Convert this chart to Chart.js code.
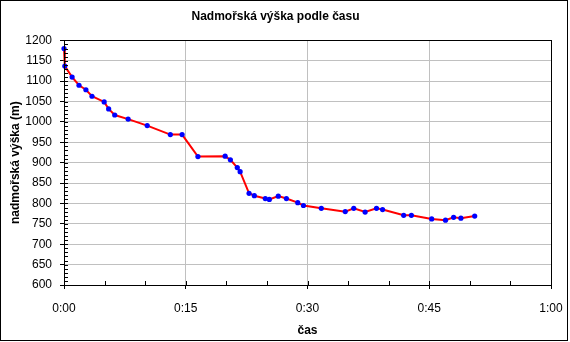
<!DOCTYPE html>
<html>
<head>
<meta charset="utf-8">
<script src="https://cdn.jsdelivr.net/npm/chart.js@4"></script>
<style>
  html, body { margin: 0; padding: 0; background: #fff; }
  #wrap { width: 570px; height: 342px; }
</style>
</head>
<body>
<div id="wrap"><canvas id="chart" width="570" height="342"></canvas></div>
<script>
// time in minutes, altitude in metres
const times = [0, 0.1, 1.0, 1.85, 2.7, 3.45, 4.95, 5.5, 6.25, 7.9, 10.25, 13.1, 14.55, 16.5, 19.85, 20.5, 21.35, 21.7, 22.8, 23.45, 24.8, 25.3, 26.4, 27.4, 28.8, 29.5, 31.7, 34.65, 35.7, 37.1, 38.5, 39.25, 41.85, 42.8, 45.3, 47.0, 48.0, 48.9, 50.6];
const altitudes = [1180, 1137, 1110, 1090, 1079, 1063, 1049, 1032, 1017, 1007, 991, 969, 969, 915, 916, 907, 888, 878, 825, 819, 812, 810, 818, 812, 802, 795, 788, 780, 788, 779, 788, 785, 771, 771, 762, 759, 766, 764, 769];
const xTicks = [0, 15, 30, 45, 60];
const yRange = [600, 1200];

const FONT = 'Arial, "Liberation Sans", sans-serif';

const fmtTime = v => Math.floor(v / 60) + ':' + String(v % 60).padStart(2, '0');

// frame, plot box and inward minor ticks
const frame = {
    id: 'frame',
    afterDraw(chart) {
        const { ctx, chartArea: a, scales: { x, y } } = chart;
        ctx.save();
        ctx.strokeStyle = '#000';
        ctx.lineWidth = 1;
        ctx.beginPath();
        for (let v = yRange[0]; v <= yRange[1]; v += 10) {
            const py = Math.round(y.getPixelForValue(v)) + 0.5;
            ctx.moveTo(a.left, py);
            ctx.lineTo(a.left + 4, py);
        }
        for (let v = 0; v <= 60; v += 5) {
            const px = Math.round(x.getPixelForValue(v)) + 0.5;
            ctx.moveTo(px, a.bottom);
            ctx.lineTo(px, a.bottom - 4);
        }
        ctx.stroke();
        ctx.strokeRect(Math.round(a.left) + 0.5, Math.round(a.top) + 0.5,
            Math.round(a.right - a.left), Math.round(a.bottom - a.top));
        ctx.strokeRect(0.5, 0.5, 567, 340);
        ctx.restore();
    }
};

new Chart(document.getElementById('chart'), {
    type: 'scatter',
    data: {
        datasets: [{
            data: times.map((t, i) => ({ x: t, y: altitudes[i] })),
            showLine: true,
            clip: false,
            borderColor: '#ff0000',
            borderWidth: 2,
            tension: 0,
            pointStyle: 'circle',
            pointRadius: 2.6,
            pointBackgroundColor: '#0000ff',
            pointBorderColor: '#0000ff',
            pointBorderWidth: 0
        }]
    },
    options: {
        responsive: false,
        animation: false,
        layout: { padding: { left: 0, right: 19, top: 0, bottom: 0 } },
        plugins: {
            legend: { display: false },
            tooltip: { enabled: false },
            title: {
                display: true,
                text: 'Nadmořská výška podle času',
                color: '#000',
                font: { family: FONT, size: 12, weight: 'bold' },
                padding: { top: 9, bottom: 17 }
            }
        },
        scales: {
            x: {
                type: 'linear',
                min: 0,
                max: 60,
                afterBuildTicks: s => { s.ticks = xTicks.map(v => ({ value: v })); },
                afterFit: s => { s.height = 57; s.paddingLeft = 0; s.paddingRight = 0; },
                ticks: {
                    color: '#000',
                    font: { family: FONT, size: 12 },
                    padding: 12,
                    maxRotation: 0,
                    callback: v => fmtTime(v)
                },
                grid: { color: '#c0c0c0', tickColor: '#000', tickLength: 4 },
                border: { color: '#000' },
                title: {
                    display: true,
                    text: 'čas',
                    color: '#000',
                    font: { family: FONT, size: 12, weight: 'bold' },
                    padding: { top: 4, bottom: 4 }
                }
            },
            y: {
                min: yRange[0],
                max: yRange[1],
                afterFit: s => { s.width = 64; s.paddingTop = 0; s.paddingBottom = 0; },
                ticks: {
                    stepSize: 50,
                    color: '#000',
                    font: { family: FONT, size: 12 },
                    padding: 8,
                    callback: v => String(v)
                },
                grid: { color: '#c0c0c0', tickColor: '#000', tickLength: 4 },
                border: { color: '#000' },
                title: {
                    display: true,
                    text: 'nadmořská výška (m)',
                    color: '#000',
                    font: { family: FONT, size: 12, weight: 'bold' },
                    padding: { top: 8, bottom: 4 }
                }
            }
        }
    },
    plugins: [frame]
});
</script>
</body>
</html>
